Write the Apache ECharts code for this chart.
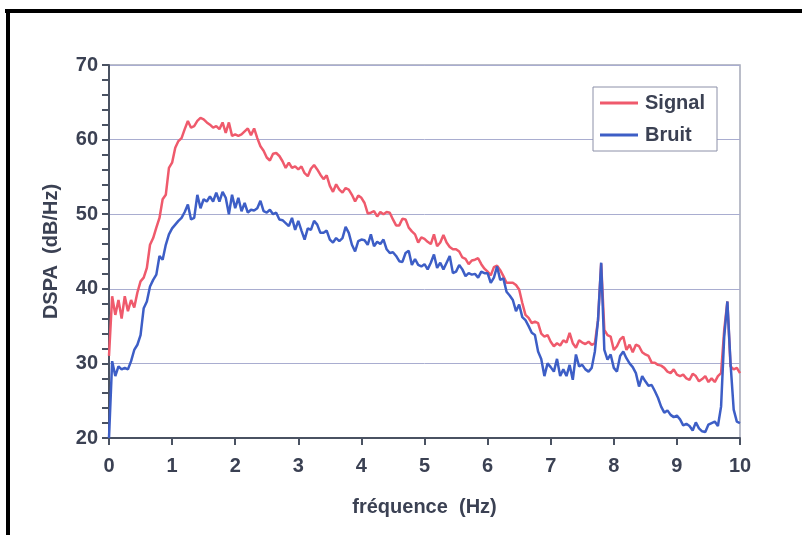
<!DOCTYPE html>
<html>
<head>
<meta charset="utf-8">
<script src="https://cdn.jsdelivr.net/npm/echarts@6/dist/echarts.min.js"></script>
<style>
html,body{margin:0;padding:0;background:#fff;}
#chart{width:802px;height:535px;}
</style>
</head>
<body>
<div id="chart"></div>
<script>
// Frequency sampling step (Hz) of both spectra, 0 .. 10 Hz
const FREQ_STEP = 0.05;
const FREQ_COUNT = 201;

// DSPA (dB/Hz) of the signal
const signalValues = [
  31.0,39.0,36.5,38.5,36.0,39.0,37.0,38.5,37.5,39.5,41.0,41.5,42.8,45.9,46.8,48.2,49.5,52.0,52.6,56.2,
  56.9,58.9,59.8,60.2,61.4,62.5,61.6,61.8,62.5,62.9,62.7,62.3,62.0,61.6,61.8,61.4,62.3,60.9,62.3,60.5,
  60.7,60.5,60.7,61.1,61.5,60.6,61.5,60.2,59.1,58.5,57.6,57.2,58.1,58.2,57.8,57.1,56.2,56.9,56.2,56.4,
  56.0,56.4,55.5,55.1,56.1,56.6,56.0,55.3,54.7,55.2,53.8,53.0,54.0,53.3,52.9,53.5,53.3,52.6,51.7,52.5,
  52.2,51.5,50.1,50.2,50.4,49.7,50.3,50.0,50.3,50.2,49.3,48.5,48.5,49.4,49.3,48.2,47.7,47.3,46.2,46.9,
  46.7,46.3,46.0,47.3,45.7,46.2,47.2,46.2,45.6,45.3,45.3,45.0,44.2,44.0,43.3,43.8,43.9,44.1,43.3,42.7,
  42.3,41.8,42.9,43.1,42.5,41.7,40.8,40.8,40.8,40.5,39.9,38.1,36.5,36.1,35.4,35.6,35.4,34.0,33.6,33.8,
  32.9,32.3,32.7,32.4,33.1,32.8,34.1,32.7,32.1,33.1,32.8,32.6,32.9,32.5,32.7,35.8,43.4,34.5,33.8,33.6,
  31.8,32.3,33.2,33.6,31.8,32.5,31.5,32.5,32.3,31.5,31.2,31.0,30.1,30.1,29.8,29.7,29.4,28.9,28.7,29.2,
  28.5,28.3,28.5,28.0,27.8,28.6,28.3,27.6,27.9,28.3,27.5,28.0,27.5,28.3,28.7,34.5,38.3,29.6,29.2,29.4,
  28.7
];

// DSPA (dB/Hz) of the noise
const bruitValues = [
  20.0,30.3,28.3,29.6,29.2,29.4,29.2,30.3,31.8,32.5,33.8,37.4,38.3,40.3,41.2,41.9,44.4,43.9,45.9,47.3,
  48.1,48.6,49.1,49.5,50.3,51.3,49.3,49.5,52.6,50.8,52.0,51.7,52.4,51.7,52.9,51.7,53.0,52.2,50.0,52.6,
  50.8,52.2,50.4,51.5,50.2,50.6,50.5,50.8,51.8,50.4,50.2,50.6,50.0,50.2,49.3,49.2,48.8,48.4,49.5,47.9,
  49.1,47.8,46.6,48.1,47.9,49.1,48.6,47.5,47.5,47.8,46.6,46.2,46.8,46.4,46.8,48.3,47.5,45.9,45.0,46.4,
  46.6,46.5,45.9,47.3,45.7,46.3,46.0,46.6,45.3,44.8,44.9,44.4,43.7,43.6,44.8,45.1,43.2,44.0,43.2,43.0,
  43.3,42.6,43.5,44.6,42.8,43.5,42.6,43.5,44.4,42.1,42.3,43.2,42.6,41.7,42.1,41.9,42.0,41.5,42.3,42.1,
  42.1,40.8,41.5,43.0,41.2,41.4,39.6,39.1,38.5,37.0,37.9,36.2,35.8,35.0,34.1,33.8,31.6,30.6,28.3,30.0,
  29.5,28.9,30.6,28.3,29.2,28.3,29.8,27.8,31.2,29.6,29.8,29.2,28.9,29.4,31.6,35.8,43.5,31.8,30.5,31.2,
  29.4,28.9,31.0,31.6,30.7,30.0,29.5,28.7,26.9,28.3,27.6,27.0,27.1,26.3,25.4,24.2,23.4,23.7,23.1,22.8,
  23.0,22.5,21.7,21.9,21.6,21.0,22.1,21.3,20.9,20.8,21.8,22.0,22.2,21.6,24.2,33.6,38.3,30.0,23.8,22.2,
  22.0
];

const seriesNames = ['Signal', 'Bruit'];
const xTicks = [0,1,2,3,4,5,6,7,8,9,10];
const yTicks = [20,30,40,50,60,70];

const freq = [];
for (let i = 0; i < FREQ_COUNT; i++) freq.push(+(i * FREQ_STEP).toFixed(2));

const TXT = '#3b4153';
const FONT = '"Liberation Sans", Arial, sans-serif';

const chart = echarts.init(document.getElementById('chart'), null, {renderer: 'canvas'});
chart.setOption({
  animation: false,
  backgroundColor: '#ffffff',
  grid: {
    left: 109, right: 62, top: 65, bottom: 97,
    show: true, borderColor: '#a4a8b8', borderWidth: 1.5, backgroundColor: 'transparent'
  },
  legend: {
    orient: 'vertical',
    left: 593, top: 87,
    padding: [6, 12, 6, 7],
    itemGap: 12,
    itemWidth: 38, itemHeight: 3,
    icon: 'rect',
    backgroundColor: '#ffffff',
    borderColor: '#8c90a8', borderWidth: 1,
    textStyle: {color: TXT, fontSize: 20, fontWeight: 'bold', fontFamily: FONT, padding: [0, 0, 0, 2]},
    data: seriesNames
  },
  xAxis: {
    type: 'value',
    min: xTicks[0], max: xTicks[xTicks.length - 1], interval: 1,
    name: 'fréquence  (Hz)',
    nameLocation: 'middle', nameGap: 59,
    nameTextStyle: {color: TXT, fontSize: 20, fontWeight: 'bold', fontFamily: FONT},
    axisLine: {show: true, onZero: false, lineStyle: {color: '#4a5262', width: 2}},
    axisTick: {show: true, inside: false, length: 7, lineStyle: {color: '#4a5262', width: 2}},
    axisLabel: {color: TXT, fontSize: 20, fontWeight: 'bold', fontFamily: FONT, margin: 18},
    splitLine: {show: false}
  },
  yAxis: {
    type: 'value',
    min: yTicks[0], max: yTicks[yTicks.length - 1], interval: 10,
    name: 'DSPA  (dB/Hz)',
    nameLocation: 'middle', nameGap: 48,
    nameTextStyle: {color: TXT, fontSize: 20, fontWeight: 'bold', fontFamily: FONT},
    axisLine: {show: true, onZero: false, lineStyle: {color: '#4a5262', width: 2}},
    axisTick: {show: true, inside: false, length: 7, lineStyle: {color: '#4a5262', width: 2}},
    minorTick: {show: true, splitNumber: 5, length: 7, lineStyle: {color: '#4a5262', width: 2}},
    axisLabel: {color: TXT, fontSize: 20, fontWeight: 'bold', fontFamily: FONT, margin: 11},
    splitLine: {show: true, lineStyle: {color: '#a9add0', width: 1}}
  },
  series: [
    {
      name: seriesNames[0], type: 'line', showSymbol: false, symbol: 'none',
      lineStyle: {color: '#ef5a6c', width: 2.5},
      itemStyle: {color: '#ef5a6c'},
      data: freq.map((f, i) => [f, signalValues[i]])
    },
    {
      name: seriesNames[1], type: 'line', showSymbol: false, symbol: 'none',
      lineStyle: {color: '#3d5ec6', width: 2.5},
      itemStyle: {color: '#3d5ec6'},
      data: freq.map((f, i) => [f, bruitValues[i]])
    }
  ],
  graphic: [
    {type: 'rect', shape: {x: 5, y: 9, width: 797, height: 4}, style: {fill: '#000'}, silent: true},
    {type: 'rect', shape: {x: 6, y: 9, width: 4, height: 526}, style: {fill: '#000'}, silent: true}
  ]
});
</script>
</body>
</html>
